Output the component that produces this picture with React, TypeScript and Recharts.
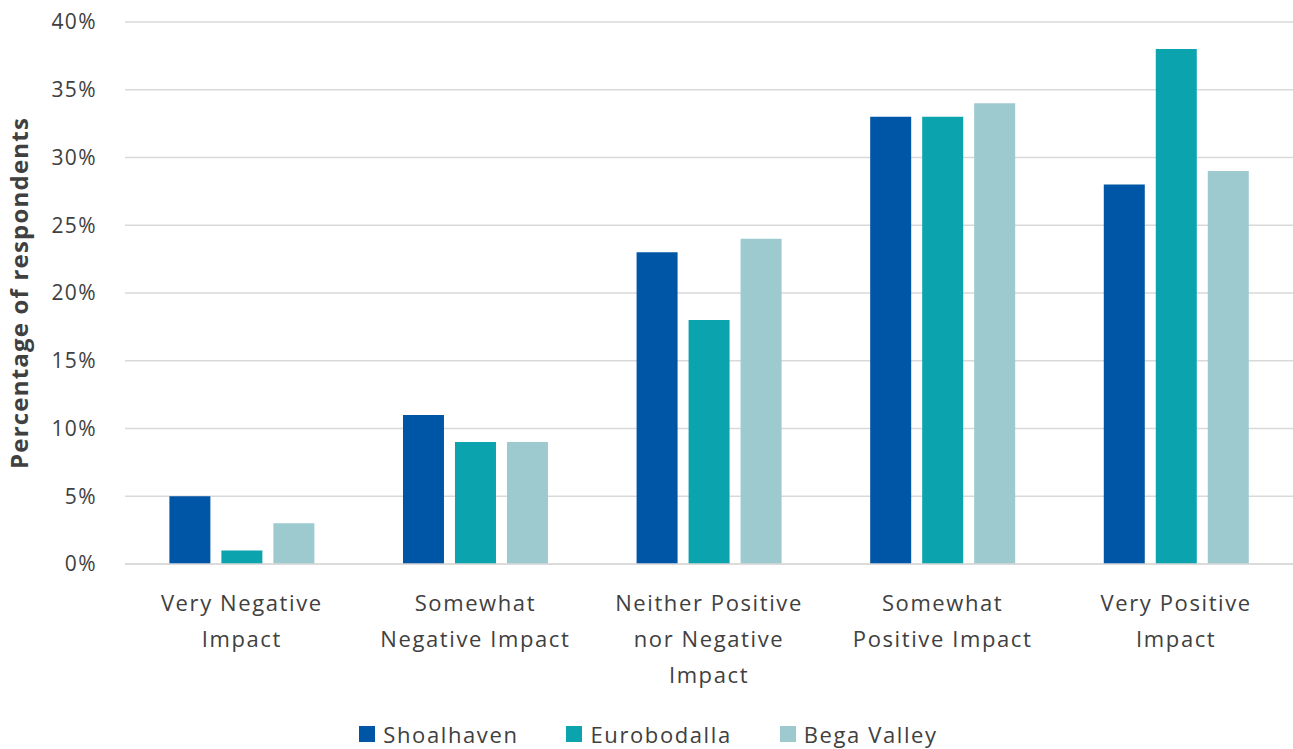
import { BarChart, Bar, XAxis, YAxis, CartesianGrid, Legend } from "recharts";

const categories = [
  "Very Negative Impact",
  "Somewhat Negative Impact",
  "Neither Positive nor Negative Impact",
  "Somewhat Positive Impact",
  "Very Positive Impact",
];

// how each category label wraps under the axis
const tickLines = [
  ["Very Negative", "Impact"],
  ["Somewhat", "Negative Impact"],
  ["Neither Positive", "nor Negative", "Impact"],
  ["Somewhat", "Positive Impact"],
  ["Very Positive", "Impact"],
];

const shoalhaven = [5, 11, 23, 33, 28];
const eurobodalla = [1, 9, 18, 33, 38];
const begaValley = [3, 9, 24, 34, 29];

const yTicks = [0, 5, 10, 15, 20, 25, 30, 35, 40];

const seriesNames = ["Shoalhaven", "Eurobodalla", "Bega Valley"];
const COLORS = ["#0056a6", "#0ba4ae", "#9ccacf"];

const data = categories.map((name, i) => ({
  name,
  Shoalhaven: shoalhaven[i],
  Eurobodalla: eurobodalla[i],
  "Bega Valley": begaValley[i],
}));

const FONT = "'Open Sans', sans-serif";
const TEXT = "#404040";

const CategoryTick = (props: any) => {
  const { x, y, payload } = props;
  const idx = categories.indexOf(payload.value);
  const lines = idx >= 0 ? tickLines[idx] : [payload.value];
  return (
    <g transform={`translate(${x},${y})`}>
      {lines.map((line, i) => (
        <text
          key={i}
          x={0}
          y={39 + i * 36}
          textAnchor="middle"
          fill={TEXT}
          fontSize={22}
          fontFamily={FONT}
          letterSpacing={1.6}
        >
          {line}
        </text>
      ))}
    </g>
  );
};

const LegendContent = () => (
  <div
    style={{
      display: "flex",
      justifyContent: "center",
      gap: 48,
      fontFamily: FONT,
      fontSize: 22,
      color: TEXT,
      letterSpacing: 1.6,
      paddingLeft: 4,
    }}
  >
    {seriesNames.map((s, i) => (
      <div key={s} style={{ display: "flex", alignItems: "center" }}>
        <span
          style={{
            display: "inline-block",
            width: 16,
            height: 16,
            background: COLORS[i],
            marginRight: 8,
          }}
        />
        <span>{s}</span>
      </div>
    ))}
  </div>
);

export default function App() {
  return (
    <div style={{ position: "absolute", left: 0, top: 0, background: "#fff" }}>
      <BarChart
        width={1293}
        height={749}
        data={data}
        margin={{ top: 22, right: 0, bottom: 0, left: 0 }}
        barCategoryGap="19%"
        barGap={11}
      >
        <CartesianGrid vertical={false} stroke="#d9d9d9" strokeWidth={1.5} />
        <XAxis
          dataKey="name"
          height={155}
          interval={0}
          tick={<CategoryTick />}
          tickLine={false}
          axisLine={{ stroke: "#d9d9d9", strokeWidth: 1.5 }}
        />
        <YAxis
          width={125}
          domain={[0, 40]}
          ticks={yTicks}
          tickFormatter={(v) => `${v}%`}
          axisLine={false}
          tickLine={false}
          tickSize={0}
          tickMargin={28}
          tick={{ fill: TEXT, fontSize: 21, fontFamily: FONT, letterSpacing: 1.4 }}
          label={{
            value: "Percentage of respondents",
            angle: -90,
            position: "insideLeft",
            offset: 0,
            dx: 19,
            style: {
              textAnchor: "middle",
              fill: TEXT,
              fontSize: 24,
              fontWeight: 700,
              fontFamily: FONT,
              letterSpacing: 1.2,
            },
          }}
        />
        <Legend verticalAlign="bottom" height={30} content={<LegendContent />} />
        {seriesNames.map((s, i) => (
          <Bar key={s} dataKey={s} fill={COLORS[i]} isAnimationActive={false} />
        ))}
      </BarChart>
    </div>
  );
}
